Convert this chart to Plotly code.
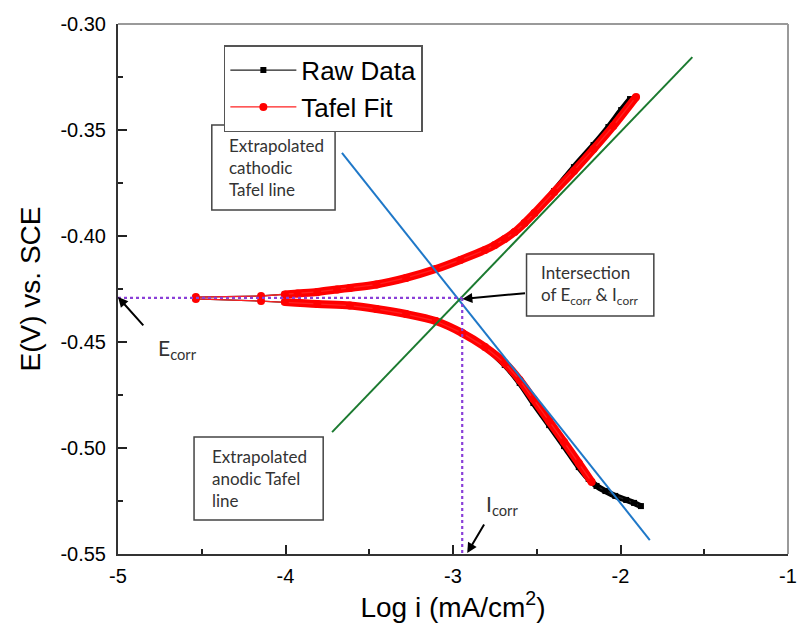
import numpy as np
import plotly.graph_objects as go

# ---------------- data ----------------
# Raw data, cathodic (lower) branch: from the tail up to Ecorr
raw_lower_logi = [-1.878, -1.919, -1.966, -2.031, -2.090, -2.143, -2.190, -2.249, -2.337, -2.426,
                  -2.520, -2.602, -2.691, -2.809, -2.944, -3.103, -3.280, -3.457, -3.616, -3.810,
                  -4.004, -4.146, -4.535]
raw_lower_E = [-0.5274, -0.5259, -0.5245, -0.5226, -0.5203, -0.5179, -0.5146, -0.5090, -0.4991, -0.4892,
               -0.4788, -0.4693, -0.4608, -0.4524, -0.4458, -0.4401, -0.4368, -0.4344, -0.4328, -0.4321,
               -0.4311, -0.4307, -0.4297]
# Raw data, anodic (upper) branch: from Ecorr up
raw_upper_logi = [-4.535, -4.146, -4.004, -3.928, -3.810, -3.692, -3.616, -3.457, -3.280, -3.103,
                  -2.956, -2.809, -2.750, -2.691, -2.632, -2.573, -2.514, -2.396, -2.278, -2.161,
                  -2.072, -1.996, -1.943]
raw_upper_E = [-0.4288, -0.4283, -0.4276, -0.4271, -0.4264, -0.4252, -0.4245, -0.4229, -0.4198, -0.4156,
               -0.4113, -0.4066, -0.4042, -0.4014, -0.3981, -0.3939, -0.3892, -0.3788, -0.3675, -0.3571,
               -0.3486, -0.3406, -0.3354]

# Tafel fit
fit_lower_logi = [-2.172, -2.249, -2.337, -2.426, -2.520, -2.602, -2.691, -2.809, -2.944, -3.103,
                  -3.280, -3.457, -3.616, -3.810, -4.004, -4.146, -4.535]
fit_lower_E = [-0.5160, -0.5071, -0.4972, -0.4873, -0.4769, -0.4679, -0.4599, -0.4524, -0.4458, -0.4401,
               -0.4368, -0.4344, -0.4328, -0.4321, -0.4311, -0.4307, -0.4297]
fit_upper_logi = [-4.535, -4.146, -4.004, -3.928, -3.810, -3.692, -3.616, -3.457, -3.280, -3.103,
                  -2.956, -2.809, -2.750, -2.691, -2.632, -2.573, -2.514, -2.396, -2.278, -2.161,
                  -2.043, -1.907]
fit_upper_E = [-0.4288, -0.4283, -0.4276, -0.4271, -0.4264, -0.4252, -0.4245, -0.4229, -0.4198, -0.4156,
               -0.4113, -0.4066, -0.4042, -0.4014, -0.3981, -0.3939, -0.3892, -0.3792, -0.3693, -0.3590,
               -0.3481, -0.3344]

# Extrapolated Tafel lines
cathodic_line_logi = [-3.663, -1.825]
cathodic_line_E = [-0.3608, -0.5434]
anodic_line_logi = [-3.722, -1.571]
anodic_line_E = [-0.4925, -0.3156]

E_corr = -0.4292
logi_corr = -2.945

x_ticks = [-5, -4, -3, -2, -1]
y_ticks = [-0.30, -0.35, -0.40, -0.45, -0.50, -0.55]

# ---------------- figure ----------------
fig = go.Figure()

def dense(xs, ys, lim=-4.01):
    xs = np.array(xs); ys = np.array(ys)
    m = xs >= lim
    return xs[m], ys[m]

raw_x = raw_lower_logi + raw_upper_logi
raw_y = raw_lower_E + raw_upper_E
fit_x = fit_lower_logi + fit_upper_logi
fit_y = fit_lower_E + fit_upper_E

# black: thick continuous part + thin line with markers
for xs, ys in [(raw_lower_logi, raw_lower_E), (raw_upper_logi, raw_upper_E)]:
    dx, dy = dense(xs, ys)
    fig.add_trace(go.Scatter(x=dx, y=dy, mode="lines",
                             line=dict(color="black", width=6, shape="spline", smoothing=0.8),
                             showlegend=False, hoverinfo="skip"))
fig.add_trace(go.Scatter(x=raw_x, y=raw_y, mode="lines+markers", name="Raw Data",
                         line=dict(color="#222222", width=1.3),
                         marker=dict(symbol="square", size=6, color="black")))
# red: thick continuous part + thin line with markers
for xs, ys in [(fit_lower_logi, fit_lower_E), (fit_upper_logi, fit_upper_E)]:
    dx, dy = dense(xs, ys)
    fig.add_trace(go.Scatter(x=dx, y=dy, mode="lines",
                             line=dict(color="#ff0000", width=8, shape="spline", smoothing=0.8),
                             showlegend=False, hoverinfo="skip"))
fig.add_trace(go.Scatter(x=fit_x, y=fit_y, mode="lines+markers", name="Tafel Fit",
                         line=dict(color="#ff2020", width=1.3),
                         marker=dict(symbol="circle", size=8, color="#ff0000")))

# extrapolated lines
fig.add_trace(go.Scatter(x=cathodic_line_logi, y=cathodic_line_E, mode="lines",
                         line=dict(color="#1f78c8", width=2), showlegend=False))
fig.add_trace(go.Scatter(x=anodic_line_logi, y=anodic_line_E, mode="lines",
                         line=dict(color="#1b7a30", width=2), showlegend=False))
# dotted guide lines
fig.add_trace(go.Scatter(x=[-5, logi_corr], y=[E_corr, E_corr], mode="lines",
                         line=dict(color="#8a3fd8", width=2.2, dash="dot"), showlegend=False))
fig.add_trace(go.Scatter(x=[logi_corr, logi_corr], y=[E_corr, -0.55], mode="lines",
                         line=dict(color="#8a3fd8", width=2.2, dash="dot"), showlegend=False))

box_font = dict(family="Lato, Noto Sans, sans-serif", size=17, color="#333333")
boxes = [
    (-4.440, -3.704, -0.3476, -0.3877),
    (-2.561, -1.801, -0.4085, -0.4377),
    (-4.546, -3.775, -0.4948, -0.5340),
]
for x0, x1, y0, y1 in boxes:
    fig.add_shape(type="rect", xref="x", yref="y", x0=x0, x1=x1, y0=y0, y1=y1,
                  line=dict(color="#444444", width=1.5), fillcolor="white", layer="above")

texts = [
    ("Extrapolated<br>cathodic<br>Tafel line", -4.352, -0.3677),
    ("Intersection<br>of E<sub>corr</sub> &amp; I<sub>corr</sub>", -2.485, -0.4231),
    ("Extrapolated<br>anodic Tafel<br>line", -4.452, -0.5146),
]
for t, x, y in texts:
    fig.add_annotation(text=t, x=x, y=y, xref="x", yref="y", xanchor="left", yanchor="middle",
                       align="left", showarrow=False, font=box_font)

label_font = dict(family="Lato, Noto Sans, sans-serif", size=21, color="#333333")
fig.add_annotation(text="E<sub>corr</sub>", x=-4.775, y=-0.4533, xref="x", yref="y",
                   xanchor="left", yanchor="middle", showarrow=False, font=label_font)
fig.add_annotation(text="I<sub>corr</sub>", x=-2.817, y=-0.5269, xref="x", yref="y",
                   xanchor="left", yanchor="middle", showarrow=False, font=label_font)

arrows = [
    (-5.0, -0.4288, -4.841, -0.4429),
    (-2.944, -0.4297, -2.561, -0.4269),
    (-2.915, -0.5495, -2.809, -0.5354),
]
for hx, hy, tx, ty in arrows:
    fig.add_annotation(x=hx, y=hy, ax=tx, ay=ty, xref="x", yref="y", axref="x", ayref="y",
                       text="", showarrow=True, arrowhead=2, arrowsize=1, arrowwidth=2,
                       arrowcolor="black")

# top/right frame in lighter grey
fig.add_shape(type="line", xref="paper", yref="paper", x0=0, x1=1, y0=1, y1=1,
              line=dict(color="#9a9a9a", width=2))
fig.add_shape(type="line", xref="paper", yref="paper", x0=1, x1=1, y0=0, y1=1,
              line=dict(color="#9a9a9a", width=2))

axis_font = dict(family="Liberation Sans, Arial, sans-serif", size=20, color="black")
title_font = dict(family="Liberation Sans, Arial, sans-serif", size=28, color="black")
fig.update_xaxes(range=[-5, -1], tickvals=x_ticks, ticktext=[str(v) for v in x_ticks],
                 ticks="inside", ticklen=9, tickwidth=1.5, tickcolor="#222",
                 showline=True, linecolor="#333", linewidth=2, showgrid=False, zeroline=False,
                 minor=dict(dtick=0.5, ticks="inside", ticklen=5, tickwidth=1.5, tickcolor="#222"),
                 tickfont=axis_font, ticklabelstandoff=3,
                 title=dict(text="Log i (mA/cm<sup>2</sup>)", font=title_font, standoff=3))
fig.update_yaxes(range=[-0.55, -0.30], tickvals=y_ticks, ticktext=[f"{v:.2f}" for v in y_ticks],
                 ticks="inside", ticklen=9, tickwidth=1.5, tickcolor="#222",
                 showline=True, linecolor="#333", linewidth=2, showgrid=False, zeroline=False,
                 minor=dict(dtick=0.025, ticks="inside", ticklen=5, tickwidth=1.5, tickcolor="#222"),
                 tickfont=axis_font, ticklabelstandoff=6,
                 title=dict(text="E(V) vs. SCE", font=title_font, standoff=12))

fig.update_layout(
    width=807, height=631,
    margin=dict(l=118, r=10, t=24, b=77),
    paper_bgcolor="white", plot_bgcolor="white",
    legend=dict(x=0.158, y=0.96, xanchor="left", yanchor="top",
                bgcolor="white", bordercolor="#555", borderwidth=1.5,
                font=dict(family="Liberation Sans, Arial, sans-serif", size=26, color="black"),
                itemwidth=66, tracegroupgap=0),
)

fig.write_html("out.html")
